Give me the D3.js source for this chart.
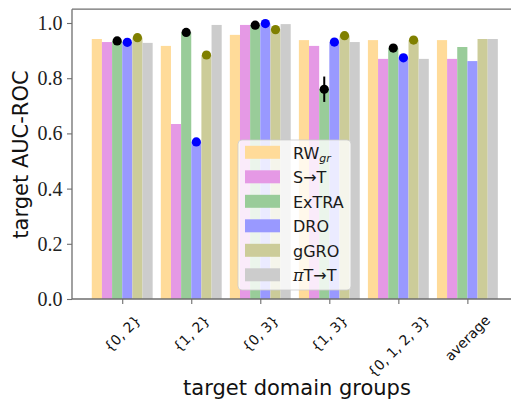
<!DOCTYPE html>
<html><head><meta charset="utf-8">
<script src="https://cdn.jsdelivr.net/npm/d3@7"></script>
<style>body{margin:0;background:#fff}</style>
</head><body>
<svg id="c" width="511" height="407"></svg>
<script>
// ---- data ----
const categories = ["{0, 2}", "{1, 2}", "{0, 3}", "{1, 3}", "{0, 1, 2, 3}", "average"];
const methods = ["RW", "S\u2192T", "ExTRA", "DRO", "gGRO", "\u03c0T\u2192T"];
const rwValues    = [0.942, 0.917, 0.957, 0.938, 0.938, 0.938];
const stValues    = [0.931, 0.634, 0.993, 0.917, 0.870, 0.870];
const extraValues = [0.935, 0.966, 0.992, 0.760, 0.909, 0.913];
const droValues   = [0.930, 0.569, 0.998, 0.931, 0.874, 0.862];
const ggroValues  = [0.947, 0.884, 0.976, 0.954, 0.938, 0.942];
const piValues    = [0.928, 0.993, 0.996, 0.931, 0.870, 0.942];
const extraErr    = [0.0, 0.0, 0.0, 0.046, 0.0];
const droErr      = [0.0, 0.0, 0.0, 0.0, 0.0];
const ggroErr     = [0.0, 0.0, 0.0, 0.0, 0.0];
const yTicks = [0.0, 0.2, 0.4, 0.6, 0.8, 1.0];

const series = [rwValues, stValues, extraValues, droValues, ggroValues, piValues];
const barColors = ["#ffdb99", "#e599e5", "#99cc99", "#9999ff", "#cccc99", "#cccccc"];
const markerSets = [
  {idx: 2, vals: extraValues, err: extraErr, color: "#000000"},
  {idx: 3, vals: droValues, err: droErr, color: "#0000ff"},
  {idx: 4, vals: ggroValues, err: ggroErr, color: "#808000"}
];

// ---- layout ----
const svg = d3.select("#c");
const L = 72, R = 517.6, T = 9.2, B = 299;
const x = d3.scaleLinear().domain([-0.7275, 5.7275]).range([L, R]);
const y = d3.scaleLinear().domain([0, 1.05]).range([B, T]);
const bw = 0.147;
const off = j => (j - 2.5) * bw;

// bars
series.forEach((vals, j) => {
  svg.append("g").selectAll("rect").data(vals).join("rect")
    .attr("x", (d, i) => x(i + off(j) - bw / 2))
    .attr("width", x(bw) - x(0))
    .attr("y", d => y(d))
    .attr("height", d => y(0) - y(d))
    .attr("fill", barColors[j]);
});

// markers + error bars
markerSets.forEach(m => {
  const g = svg.append("g");
  m.vals.slice(0, 5).forEach((v, i) => {
    const cx = x(i + off(m.idx));
    if (m.err[i] > 0) {
      g.append("line").attr("x1", cx).attr("x2", cx)
        .attr("y1", y(v - m.err[i])).attr("y2", y(v + m.err[i]))
        .attr("stroke", m.color).attr("stroke-width", 2);
    }
    g.append("circle").attr("cx", cx).attr("cy", y(v)).attr("r", 4.6).attr("fill", m.color);
  });
});

// spines
const spine = "#6e6e6e";
svg.append("line").attr("x1", L).attr("x2", R).attr("y1", T).attr("y2", T).attr("stroke", spine).attr("stroke-width", 1.3);
svg.append("line").attr("x1", L).attr("x2", L).attr("y1", T).attr("y2", B).attr("stroke", spine).attr("stroke-width", 1.3);
svg.append("line").attr("x1", L).attr("x2", R).attr("y1", B).attr("y2", B).attr("stroke", spine).attr("stroke-width", 1.3);

// y axis (tick marks from d3 axis, labels added explicitly)
const ya = svg.append("g").attr("transform", `translate(${L},0)`)
  .call(d3.axisLeft(y).tickValues(yTicks).tickFormat("").tickSize(5));
ya.select(".domain").remove();
ya.selectAll("line").attr("stroke", spine).attr("stroke-width", 1.1);
svg.append("g").selectAll("text").data(yTicks).join("text")
  .attr("x", L - 9.5).attr("y", d => y(d)).attr("dy", "0.35em")
  .attr("text-anchor", "end")
  .attr("font-family", "Liberation Serif").attr("font-size", 20).attr("fill", "#222")
  .text(d => d3.format(".1f")(d));

// x axis
const xa = svg.append("g").attr("transform", `translate(0,${B})`)
  .call(d3.axisBottom(x).tickValues(d3.range(categories.length)).tickFormat("").tickSize(5));
xa.select(".domain").remove();
xa.selectAll("line").attr("stroke", spine).attr("stroke-width", 1.1);
const xfs = 14;
svg.append("g").selectAll("text").data(categories).join("text")
  .attr("text-anchor", "middle").attr("dominant-baseline", "central")
  .attr("font-family", "DejaVu Sans").attr("font-size", xfs).attr("fill", "#111")
  .text(d => d)
  .each(function(d, i) {
    const w = this.getComputedTextLength();
    const H = (w + xfs * 1.05) * Math.SQRT1_2;
    const cy = B + 13.5 + H / 2;
    d3.select(this).attr("transform", `translate(${x(i)},${cy}) rotate(-45)`);
  });

// axis labels
svg.append("text").attr("x", 297).attr("y", 395).attr("text-anchor", "middle")
  .attr("font-family", "DejaVu Sans").attr("font-size", 21).attr("fill", "#111")
  .text("target domain groups");
svg.append("text").attr("transform", "translate(28,154.5) rotate(-90)").attr("text-anchor", "middle")
  .attr("font-family", "DejaVu Sans").attr("font-size", 21).attr("fill", "#111")
  .text("target AUC-ROC");

// legend
const lg = svg.append("g");
lg.append("rect").attr("x", 238).attr("y", 140).attr("width", 113).attr("height", 150).attr("rx", 4)
  .attr("fill", "#fff").attr("fill-opacity", 0.8).attr("stroke", "#cccccc").attr("stroke-opacity", 0.8);
methods.forEach((m, j) => {
  const cy = 152.3 + j * 24.5;
  lg.append("rect").attr("x", 245).attr("y", cy - 6.5).attr("width", 35).attr("height", 13).attr("fill", barColors[j]);
  const t = lg.append("text").attr("x", 293).attr("y", cy + 6.5)
    .attr("font-family", "DejaVu Sans").attr("font-size", 16).attr("fill", "#1a1a1a");
  if (j === 0) {
    t.append("tspan").text("RW");
    t.append("tspan").attr("font-size", 11).attr("dy", 3).attr("font-style", "italic").text("gr");
  } else if (j === 5) {
    t.append("tspan").attr("font-family", "DejaVu Serif").attr("font-style", "italic").text("\u03c0");
    t.append("tspan").text("T\u2192T");
  } else {
    t.text(m);
  }
});
</script>
</body></html>
